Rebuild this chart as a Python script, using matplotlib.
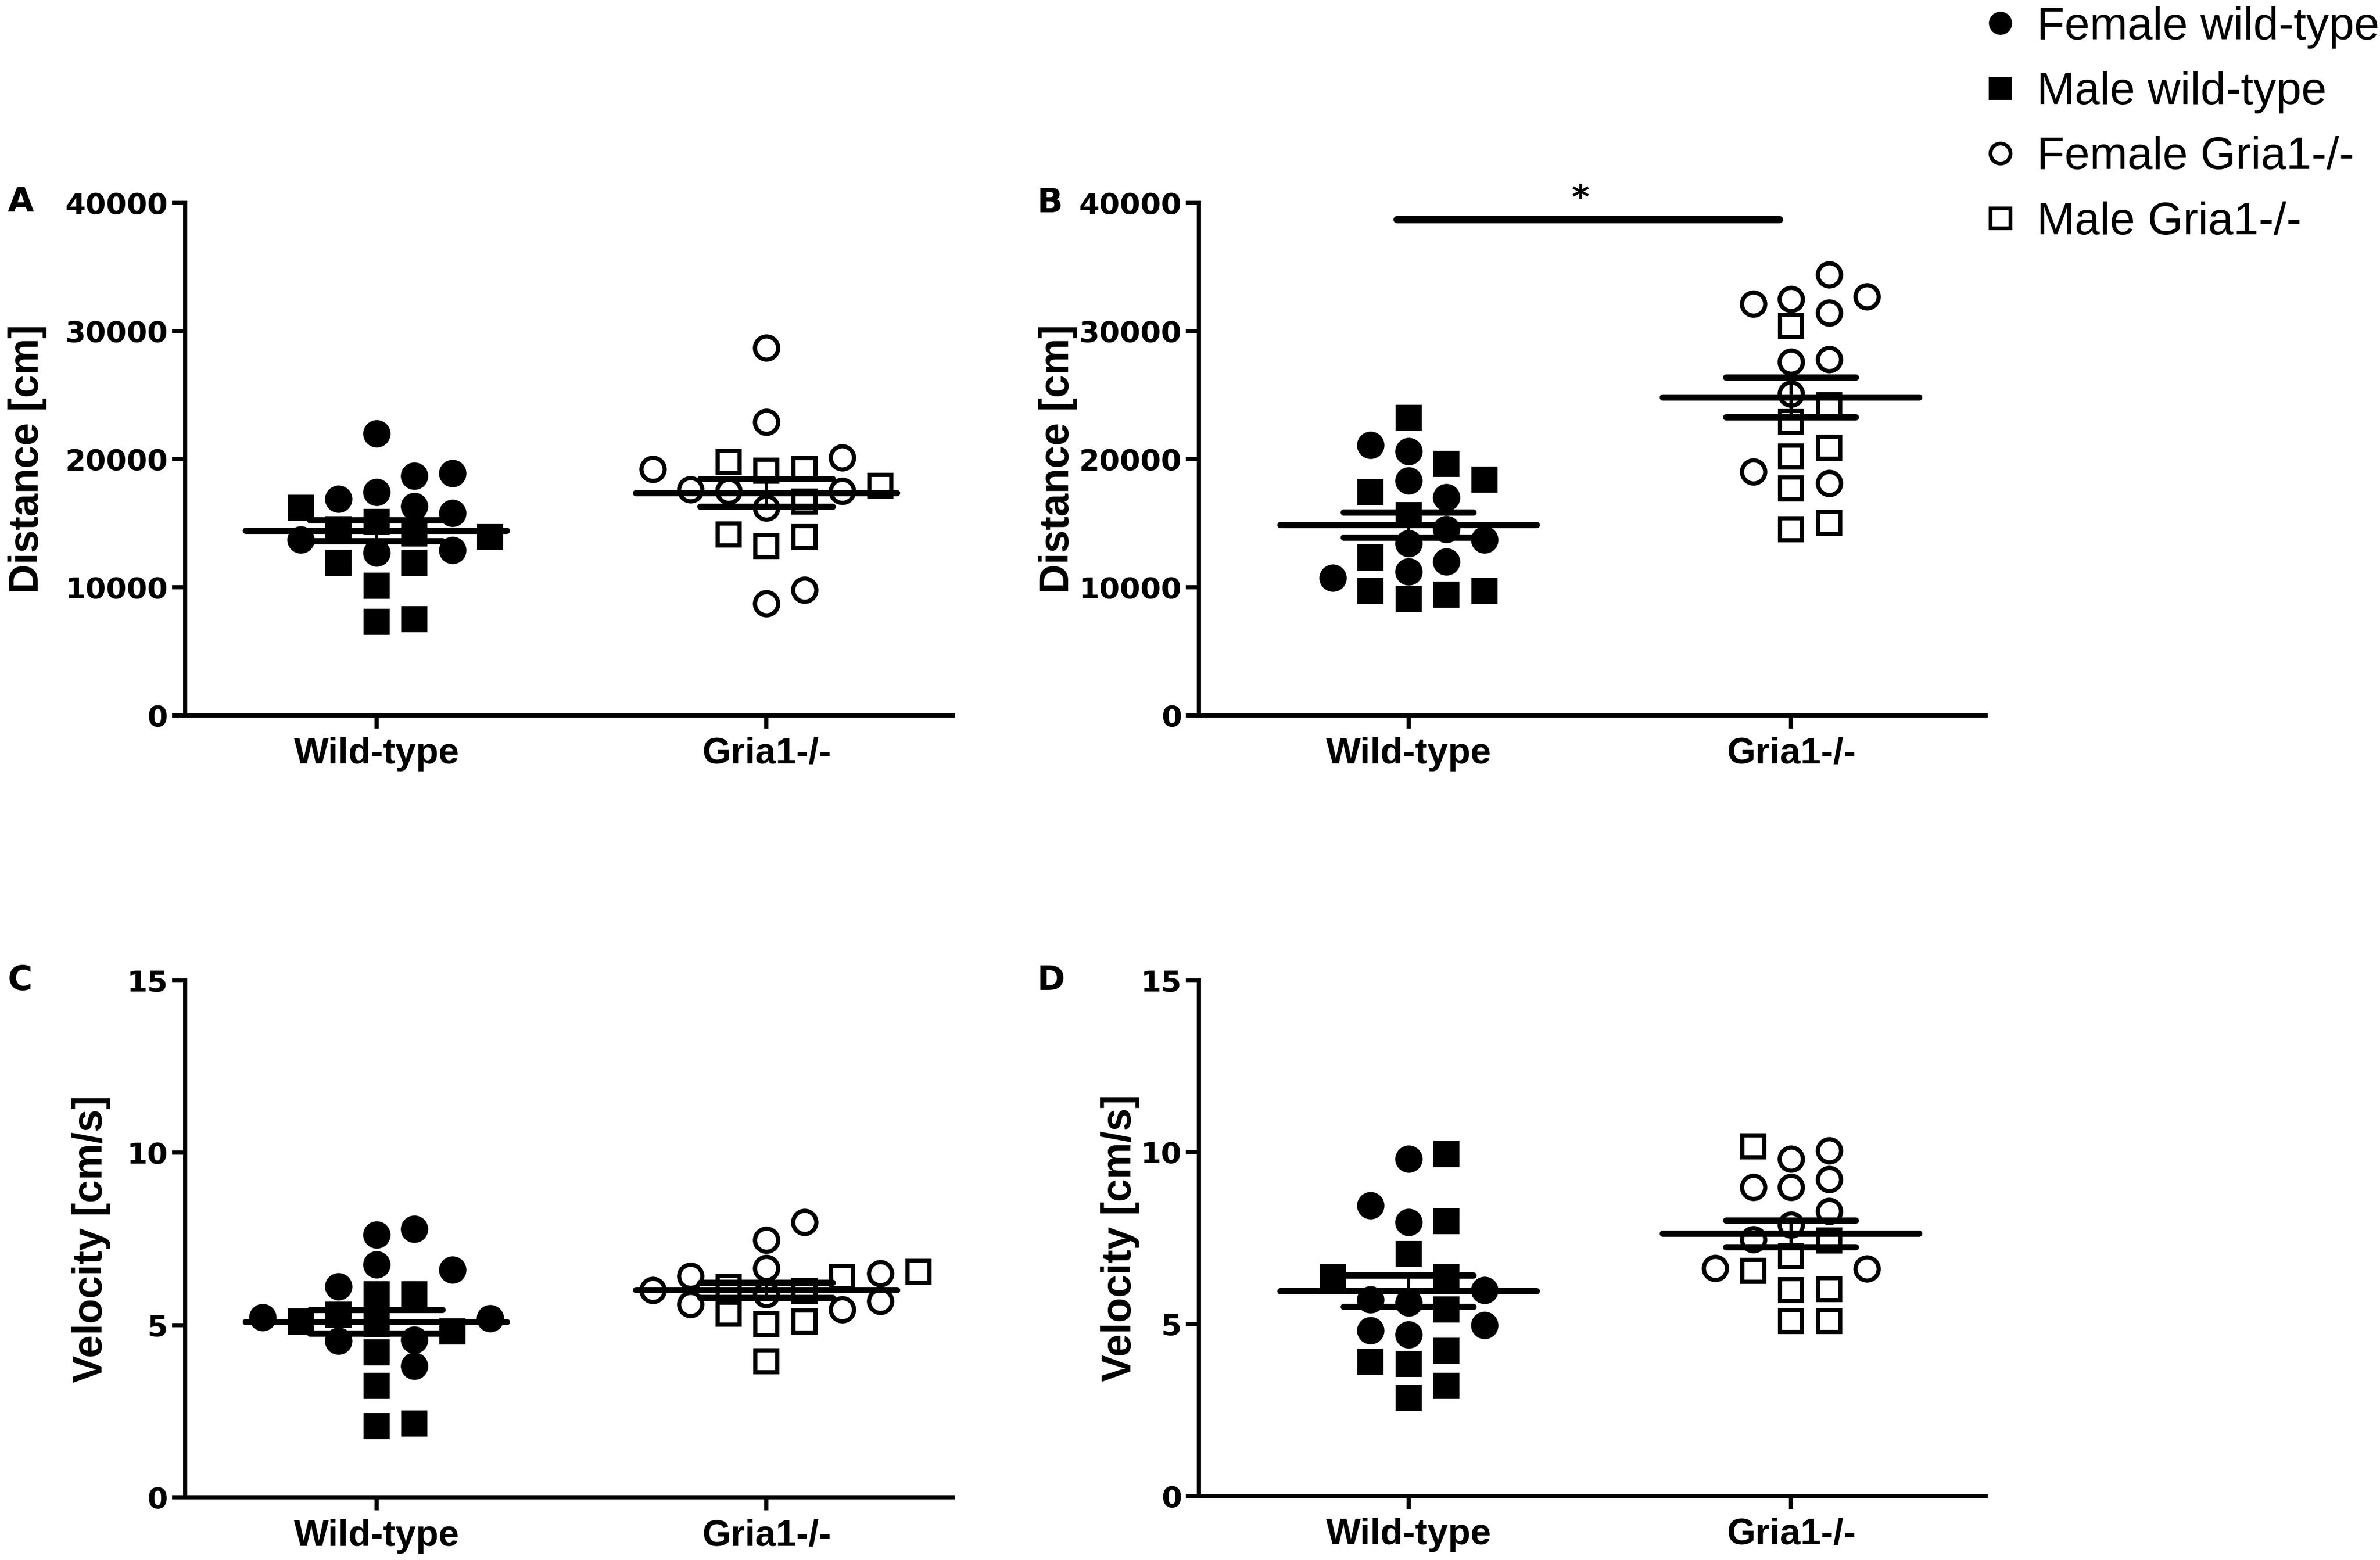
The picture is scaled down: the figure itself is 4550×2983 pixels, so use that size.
import matplotlib
matplotlib.use("Agg")
import matplotlib.pyplot as plt
from matplotlib.lines import Line2D
import numpy as np

groups = ["Wild-type", "Gria1-/-"]

# A: distance
a_wt_female = [22000, 18900, 18700, 16900, 17400, 16300, 15800, 12900, 12700, 13700]
a_wt_male = [14500, 13900, 16200, 15100, 14200, 11900, 11900, 10100, 7300, 7500]
a_ko_female = [28700, 22900, 20100, 19200, 17600, 17500, 17500, 16200, 9800, 8700]
a_ko_male = [19800, 19100, 17900, 16700, 19200, 13900, 13200, 14100]

# B: distance
b_wt_female = [20600, 21100, 18300, 17000, 14500, 13400, 13700, 12000, 10700, 11200]
b_wt_male = [23200, 19600, 18400, 17400, 15600, 12300, 9700, 9100, 9400, 9700]
b_ko_female = [34400, 32700, 32100, 32500, 31400, 27600, 27800, 25100, 18100, 19000]
b_ko_male = [30400, 24200, 22900, 20900, 20200, 17700, 14500, 15000]

# C: velocity
c_wt_female = [7.62, 7.79, 6.61, 6.76, 6.12, 5.23, 5.20, 4.54, 4.57, 3.82]
c_wt_male = [5.89, 5.89, 5.03, 5.30, 4.82, 4.21, 3.24, 2.07, 2.14, 5.10]
c_ko_female = [7.99, 7.47, 6.66, 6.50, 6.42, 6.02, 5.90, 5.70, 5.60, 5.46]
c_ko_male = [6.55, 6.40, 6.10, 5.99, 5.33, 5.11, 5.03, 3.95]

# D: velocity
d_wt_female = [9.81, 8.45, 7.97, 5.99, 5.72, 5.62, 4.97, 4.70, 4.81]
d_wt_male = [9.95, 8.00, 7.04, 6.37, 6.37, 5.43, 3.85, 4.22, 3.90, 2.85, 3.20]
d_ko_female = [9.81, 10.06, 8.99, 9.22, 8.99, 8.29, 7.89, 7.46, 6.61, 6.63]
d_ko_male = [10.17, 7.43, 6.98, 6.55, 5.99, 6.02, 5.09, 5.09]

sig_b = 38700  # height of the significance bar in B

legend_labels = ["Female wild-type", "Male wild-type", "Female Gria1-/-", "Male Gria1-/-"]

W, H = 1568, 1023  # reference layout units (px)

# letter, (left, right, bottom, top), first/second category px, ylim, ticks, label, label x px, letter x px
panels = [
    ("A", (122, 628, 469, 133), (248, 505), (0, 40000), [0, 10000, 20000, 30000, 40000],
     "Distance [cm]", 18, 5, (a_wt_female, a_wt_male, a_ko_female, a_ko_male)),
    ("B", (790, 1308, 469, 133), (928, 1180), (0, 40000), [0, 10000, 20000, 30000, 40000],
     "Distance [cm]", 697, 683, (b_wt_female, b_wt_male, b_ko_female, b_ko_male)),
    ("C", (122, 628, 982, 643), (248, 505), (0, 15), [0, 5, 10, 15],
     "Velocity [cm/s]", 60, 5, (c_wt_female, c_wt_male, c_ko_female, c_ko_male)),
    ("D", (790, 1308, 981, 643), (928, 1180), (0, 15), [0, 5, 10, 15],
     "Velocity [cm/s]", 738, 683, (d_wt_female, d_wt_male, d_ko_female, d_ko_male)),
]

MS = 11
MEW = 2.0
fig = plt.figure(figsize=(4550 / 290, 2983 / 290), dpi=290)
PX = 4550 / W  # output pixels per layout px


def swarm(ax, xc, values, diam, step):
    # simple beeswarm in pixel space
    pts = ax.transData.transform(np.column_stack([np.full(len(values), xc), values]))
    ypx = pts[:, 1]
    x0 = pts[0, 0]
    order = np.argsort(values)
    placed = []
    xs = np.zeros(len(values))
    for i in order:
        k = 0
        while True:
            cands = [0] if k == 0 else [k, -k]
            ok = None
            for c in cands:
                xp = x0 + c * step
                if all((xp - px) ** 2 + (ypx[i] - py) ** 2 >= diam ** 2 for px, py in placed):
                    ok = xp
                    break
            if ok is not None:
                placed.append((ok, ypx[i]))
                xs[i] = ok
                break
            k += 1
    inv = ax.transData.inverted()
    return inv.transform(np.column_stack([xs, ypx]))[:, 0]


for letter, (l, r, b, t), (c0, c1), ylim, yticks, ylabel, labpx, letpx, data in panels:
    ax = fig.add_axes([l / W, 1 - b / H, (r - l) / W, (b - t) / H])
    unit = c1 - c0
    ax.set_xlim(-(c0 - l) / unit, 1 + (r - c1) / unit)
    ax.set_ylim(*ylim)
    for s in ["top", "right"]:
        ax.spines[s].set_visible(False)
    for s in ["left", "bottom"]:
        ax.spines[s].set_linewidth(2.0)
    ax.set_yticks(yticks)
    ax.set_yticklabels([str(v) for v in yticks], fontfamily="DejaVu Sans",
                       fontweight="bold", fontsize=14)
    ax.set_xticks([0, 1])
    ax.set_xticklabels(groups, fontfamily="Liberation Sans", fontweight="bold", fontsize=17.5)
    ax.tick_params(axis="both", width=2.0, length=6.2, direction="out")
    ax.tick_params(axis="y", pad=2)
    ax.tick_params(axis="x", pad=4)
    ax.set_ylabel(ylabel, fontfamily="Liberation Sans", fontweight="bold", fontsize=19.5)
    ax.yaxis.label.set_verticalalignment("center")
    ax.yaxis.set_label_coords((labpx - l) / (r - l), 0.5)

    diam = 17 * PX
    step = 25 * PX
    for gi in range(2):
        fem = np.array(data[2 * gi], float)
        mal = np.array(data[2 * gi + 1], float)
        allv = np.concatenate([fem, mal])
        xs = swarm(ax, gi, allv, diam, step)
        face = "black" if gi == 0 else "white"
        ax.plot(xs[:len(fem)], fem, "o", ms=MS, mfc=face, mec="black", mew=MEW, zorder=3, clip_on=False)
        ax.plot(xs[len(fem):], mal, "s", ms=MS * 0.95, mfc=face, mec="black", mew=MEW, zorder=3, clip_on=False)
        m = allv.mean()
        se = allv.std(ddof=1) / np.sqrt(len(allv))
        ax.plot([gi - 0.335, gi + 0.335], [m, m], color="black", lw=3.0, solid_capstyle="round", zorder=4)
        ax.plot([gi - 0.17, gi + 0.17], [m + se, m + se], color="black", lw=3.0, solid_capstyle="round", zorder=4)
        ax.plot([gi - 0.17, gi + 0.17], [m - se, m - se], color="black", lw=3.0, solid_capstyle="round", zorder=4)
        ax.plot([gi, gi], [m - se, m + se], color="black", lw=1.5, zorder=4)

    if letter == "B":
        ax.plot([-0.03, 0.97], [sig_b, sig_b], color="black", lw=3.5, solid_capstyle="round", clip_on=False)
        ax.text(0.45, sig_b + 300, "*", ha="center", va="bottom", fontsize=16, fontweight="bold",
                fontfamily="DejaVu Sans", clip_on=False)

    fig.text(letpx / W, 1 - t / H, letter, ha="left", va="center",
             fontfamily="DejaVu Sans", fontweight="bold", fontsize=16)

handles = [
    Line2D([], [], ls="", marker="o", ms=9.5, mfc="black", mec="black", mew=1.5),
    Line2D([], [], ls="", marker="s", ms=9.5, mfc="black", mec="black", mew=1.5),
    Line2D([], [], ls="", marker="o", ms=9.5, mfc="white", mec="black", mew=1.8),
    Line2D([], [], ls="", marker="s", ms=9.5, mfc="white", mec="black", mew=1.8),
]
fig.legend(handles, legend_labels, loc="upper left", bbox_to_anchor=(1303 / W, 1 - 4 / H),
           frameon=False, prop={"family": "Liberation Sans", "size": 21.5},
           handlelength=1.0, handletextpad=0.3, labelspacing=0.5, borderpad=0, borderaxespad=0)

fig.savefig("out.png", dpi=290, facecolor="white")
